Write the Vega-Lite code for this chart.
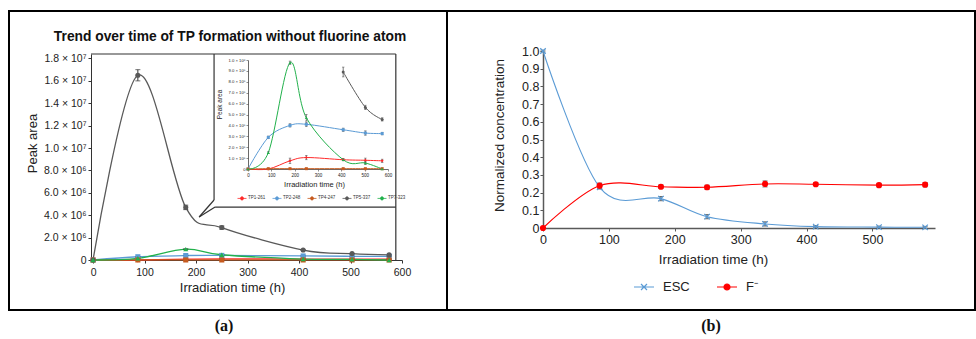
{
  "$schema": "https://vega.github.io/schema/vega-lite/v6.json",
  "padding": {"left": 8, "top": 10, "right": 0, "bottom": 0},
  "spacing": 0,
  "bounds": "flush",
  "columns": 2,
  "resolve": {"scale": {"color": "independent", "shape": "independent", "stroke": "independent", "fill": "independent"}, "legend": {"color": "independent", "shape": "independent", "stroke": "independent", "fill": "independent"}},
  "config": {
    "font": "Liberation Sans",
    "view": {"stroke": "black", "strokeWidth": 2},
    "axis": {"grid": false, "titleFontWeight": "normal", "labelColor": "#222", "titleColor": "#222", "labelFlush": false, "labelOverlap": false}
  },
  "datasets": {
    "a": [
      {"s": "TP1-261", "t": 0, "v": 0, "e": 0},
      {"s": "TP1-261", "t": 87, "v": 0, "e": 0},
      {"s": "TP1-261", "t": 180, "v": 75000, "e": 25000},
      {"s": "TP1-261", "t": 250, "v": 105000, "e": 20000},
      {"s": "TP1-261", "t": 408, "v": 85000, "e": 10000},
      {"s": "TP1-261", "t": 503, "v": 80000, "e": 20000},
      {"s": "TP1-261", "t": 575, "v": 75000, "e": 15000},
      {"s": "TP2-248", "t": 0, "v": 0, "e": 0},
      {"s": "TP2-248", "t": 87, "v": 290000, "e": 12000},
      {"s": "TP2-248", "t": 180, "v": 400000, "e": 15000},
      {"s": "TP2-248", "t": 250, "v": 410000, "e": 20000},
      {"s": "TP2-248", "t": 408, "v": 360000, "e": 15000},
      {"s": "TP2-248", "t": 503, "v": 330000, "e": 20000},
      {"s": "TP2-248", "t": 575, "v": 325000, "e": 12000},
      {"s": "TP4-247", "t": 0, "v": 0, "e": 0},
      {"s": "TP4-247", "t": 87, "v": 3000, "e": 0},
      {"s": "TP4-247", "t": 180, "v": 3000, "e": 0},
      {"s": "TP4-247", "t": 250, "v": 3000, "e": 0},
      {"s": "TP4-247", "t": 408, "v": 3000, "e": 0},
      {"s": "TP4-247", "t": 503, "v": 3000, "e": 0},
      {"s": "TP4-247", "t": 575, "v": 3000, "e": 0},
      {"s": "TP5-337", "t": 0, "v": 0, "e": 0},
      {"s": "TP5-337", "t": 87, "v": 16500000, "e": 500000},
      {"s": "TP5-337", "t": 180, "v": 4700000, "e": 200000},
      {"s": "TP5-337", "t": 250, "v": 2900000, "e": 150000},
      {"s": "TP5-337", "t": 408, "v": 890000, "e": 45000},
      {"s": "TP5-337", "t": 503, "v": 565000, "e": 20000},
      {"s": "TP5-337", "t": 575, "v": 455000, "e": 15000},
      {"s": "TP7-323", "t": 0, "v": 0, "e": 0},
      {"s": "TP7-323", "t": 87, "v": 150000, "e": 8000},
      {"s": "TP7-323", "t": 180, "v": 975000, "e": 15000},
      {"s": "TP7-323", "t": 250, "v": 470000, "e": 30000},
      {"s": "TP7-323", "t": 408, "v": 85000, "e": 8000},
      {"s": "TP7-323", "t": 503, "v": 55000, "e": 15000},
      {"s": "TP7-323", "t": 575, "v": 0, "e": 0}
    ],
    "b": [
      {"s": "ESC", "t": 0, "v": 1.0, "e": 0.005},
      {"s": "ESC", "t": 86, "v": 0.23, "e": 0.01},
      {"s": "ESC", "t": 179, "v": 0.166, "e": 0.012},
      {"s": "ESC", "t": 249, "v": 0.064, "e": 0.012},
      {"s": "ESC", "t": 337, "v": 0.023, "e": 0.012},
      {"s": "ESC", "t": 414, "v": 0.008, "e": 0.006},
      {"s": "ESC", "t": 510, "v": 0.005, "e": 0.006},
      {"s": "ESC", "t": 580, "v": 0.004, "e": 0.005},
      {"s": "F⁻", "t": 0, "v": 0, "e": 0},
      {"s": "F⁻", "t": 86, "v": 0.239, "e": 0.015},
      {"s": "F⁻", "t": 179, "v": 0.233, "e": 0.01},
      {"s": "F⁻", "t": 249, "v": 0.23, "e": 0.012},
      {"s": "F⁻", "t": 337, "v": 0.249, "e": 0.017},
      {"s": "F⁻", "t": 414, "v": 0.247, "e": 0.008},
      {"s": "F⁻", "t": 510, "v": 0.242, "e": 0.01},
      {"s": "F⁻", "t": 580, "v": 0.245, "e": 0.012}
    ]
  },
  "concat": [
    {
      "width": 438,
      "height": 299,
      "resolve": {"scale": {"x": "independent", "y": "independent"}},
      "layer": [
        {
          "data": {"name": "a"},
          "layer": [
            {
              "mark": {"type": "line", "interpolate": "cardinal", "strokeWidth": 1.3},
              "encoding": {
                "x": {"field": "t", "type": "quantitative", "title": "Irradiation time (h)", "scale": {"domain": [-4, 600], "range": [82, 393], "nice": false, "zero": false},
                  "axis": {"orient": "bottom", "offset": -50, "values": [0, 100, 200, 300, 400, 500, 600], "tickCount": 20, "labelOverlap": false, "title": "Irradiation time (h)", "titleFontSize": 13, "titleX": 223, "titleY": 31, "titleBaseline": "alphabetic", "labelFontSize": 10.5, "tickSize": 3, "labelPadding": 4, "domainColor": "#333", "tickColor": "#333"}},
                "y": {"field": "v", "type": "quantitative", "title": "Peak area", "scale": {"domain": [0, 18400000], "range": [249, 43], "nice": false, "zero": false},
                  "axis": {"orient": "left", "offset": -82, "values": [0, 2000000, 4000000, 6000000, 8000000, 10000000, 12000000, 14000000, 16000000, 18000000], "tickCount": 20, "labelOverlap": false, "labelExpr": "datum.value == 0 ? '0' : datum.value >= 10000000 ? format(datum.value / 10000000, '.1f') + ' × 10⁷' : format(datum.value / 1000000, '.1f') + ' × 10⁶'", "title": "Peak area", "titleFontSize": 13, "titleX": -59, "titleY": 132, "titleBaseline": "middle", "labelFontSize": 10.5, "tickSize": 3, "labelPadding": 2, "domainColor": "#333", "tickColor": "#333"}},
                "color": {"field": "s", "type": "nominal", "scale": {"domain": ["TP7-323", "TP5-337", "TP4-247", "TP2-248", "TP1-261"], "range": ["#22b14c", "#595959", "#c65a1e", "#5b9bd5", "#ff2a2a"]}, "legend": null}
              }
            },
            {
              "transform": [{"filter": "datum.e > 0"}],
              "mark": {"type": "errorbar", "ticks": {"size": 5}, "color": "#333", "thickness": 1},
              "encoding": {
                "x": {"field": "t", "type": "quantitative", "title": "Irradiation time (h)"},
                "y": {"field": "v", "type": "quantitative", "title": "Peak area",
                  "axis": {"orient": "left", "offset": -82, "values": [0, 2000000, 4000000, 6000000, 8000000, 10000000, 12000000, 14000000, 16000000, 18000000], "tickCount": 20, "labelOverlap": false, "labelExpr": "datum.value == 0 ? '0' : datum.value >= 10000000 ? format(datum.value / 10000000, '.1f') + ' × 10⁷' : format(datum.value / 1000000, '.1f') + ' × 10⁶'", "title": "Peak area", "titleFontSize": 13, "titleX": -59, "titleY": 132, "titleBaseline": "middle", "labelFontSize": 10.5, "tickSize": 3, "labelPadding": 2, "domainColor": "#333", "tickColor": "#333"}},
                "yError": {"field": "e"}
              }
            },
            {
              "mark": {"type": "point", "filled": true, "size": 26, "opacity": 1},
              "encoding": {
                "x": {"field": "t", "type": "quantitative", "title": "Irradiation time (h)"},
                "y": {"field": "v", "type": "quantitative", "title": "Peak area"},
                "color": {"field": "s", "type": "nominal", "legend": null},
                "shape": {"field": "s", "type": "nominal", "scale": {"domain": ["TP7-323", "TP5-337", "TP4-247", "TP2-248", "TP1-261"], "range": ["triangle-up", "circle", "square", "square", "diamond"]}, "legend": null}
              }
            },
            {
              "data": {"values": [{"label": "Trend over time of TP formation without fluorine atom"}]},
              "mark": {"type": "text", "fontWeight": "bold", "fontSize": 13.8, "baseline": "middle", "color": "#111"},
              "encoding": {
                "text": {"field": "label"},
                "x": {"datum": 266, "type": "quantitative", "title": "Irradiation time (h)"},
                "y": {"datum": 19920000, "type": "quantitative", "title": "Peak area"}
              }
            },
            {
              "data": {"values": [{}]},
              "mark": {"type": "rule", "color": "#333", "strokeWidth": 1.2},
              "encoding": {
                "x": {"datum": -4, "type": "quantitative", "title": "Irradiation time (h)"}, "x2": {"datum": 588},
                "y": {"datum": 18400000, "type": "quantitative", "title": "Peak area"}
              }
            },
            {
              "data": {"values": [{}]},
              "mark": {"type": "rule", "color": "#333", "strokeWidth": 1.2},
              "encoding": {
                "x": {"datum": 588, "type": "quantitative", "title": "Irradiation time (h)"},
                "y": {"datum": 0, "type": "quantitative", "title": "Peak area"}, "y2": {"datum": 18400000}
              }
            },
            {
              "data": {"values": [{}]},
              "mark": {"type": "rule", "color": "#333", "strokeWidth": 1.2},
              "encoding": {
                "x": {"datum": 235, "type": "quantitative", "title": "Irradiation time (h)"},
                "y": {"datum": 18400000, "type": "quantitative", "title": "Peak area"}, "y2": {"datum": 5360000}
              }
            },
            {
              "data": {"values": [{}]},
              "mark": {"type": "rule", "color": "#333", "strokeWidth": 1.2},
              "encoding": {
                "x": {"datum": 235, "type": "quantitative", "title": "Irradiation time (h)"}, "x2": {"datum": 206},
                "y": {"datum": 5360000, "type": "quantitative", "title": "Peak area"}, "y2": {"datum": 3840000}
              }
            },
            {
              "data": {"values": [{}]},
              "mark": {"type": "rule", "color": "#333", "strokeWidth": 1.2},
              "encoding": {
                "x": {"datum": 206, "type": "quantitative", "title": "Irradiation time (h)"}, "x2": {"datum": 237},
                "y": {"datum": 3840000, "type": "quantitative", "title": "Peak area"}, "y2": {"datum": 4730000}
              }
            },
            {
              "data": {"values": [{}]},
              "mark": {"type": "rule", "color": "#333", "strokeWidth": 1.2},
              "encoding": {
                "x": {"datum": 237, "type": "quantitative", "title": "Irradiation time (h)"}, "x2": {"datum": 588},
                "y": {"datum": 4730000, "type": "quantitative", "title": "Peak area"}
              }
            }
          ]
        },
        {
          "data": {"name": "a"},
          "transform": [{"filter": "datum.s != 'TP5-337' || datum.t >= 400"}],
          "encoding": {
            "x": {"field": "t", "type": "quantitative", "title": "Irradiation time (h)", "scale": {"domain": [0, 600], "range": [239, 379], "nice": false, "zero": false},
              "axis": {"orient": "bottom", "offset": -141, "values": [0, 100, 200, 300, 400, 500, 600], "tickCount": 20, "labelOverlap": false, "title": "Irradiation time (h)", "titleFontSize": 7.5, "titleX": 305, "titleY": 15, "titleBaseline": "middle", "labelFontSize": 4.5, "tickSize": 2, "labelPadding": 1, "domainColor": "#444", "domainWidth": 0.8, "tickColor": "#444", "tickWidth": 0.6}},
            "y": {"field": "v", "type": "quantitative", "title": "Peak area", "scale": {"domain": [0, 1000000], "range": [158, 49], "nice": false, "zero": false},
              "axis": {"orient": "left", "offset": -239, "values": [0, 100000, 200000, 300000, 400000, 500000, 600000, 700000, 800000, 900000, 1000000], "tickCount": 20, "labelOverlap": false, "labelExpr": "datum.value == 0 ? '0' : datum.value >= 1000000 ? '1.0 × 10⁶' : format(datum.value / 100000, '.1f') + ' × 10⁵'", "title": "Peak area", "titleFontSize": 6.5, "titleX": -29, "titleY": 93, "titleBaseline": "middle", "labelFontSize": 4.2, "tickSize": 2, "labelPadding": 1, "domainColor": "#444", "domainWidth": 0.8, "tickColor": "#444", "tickWidth": 0.6}}
          },
          "layer": [
            {
              "mark": {"type": "line", "interpolate": "cardinal", "strokeWidth": 1},
              "encoding": {
                "color": {"field": "s", "type": "nominal", "legend": null}
              }
            },
            {
              "transform": [{"filter": "datum.e > 0"}],
              "mark": {"type": "errorbar", "ticks": {"size": 2.5}, "color": "#444", "thickness": 0.7},
              "encoding": {
                "yError": {"field": "e"}
              }
            },
            {
              "mark": {"type": "point", "filled": true, "size": 9, "opacity": 1},
              "encoding": {
                "color": {"field": "s", "type": "nominal", "legend": null},
                "shape": {"field": "s", "type": "nominal", "legend": null}
              }
            },
            {
              "mark": {"type": "point", "opacity": 0},
              "encoding": {
                "stroke": {"field": "s", "type": "nominal", "scale": {"domain": ["TP1-261", "TP2-248", "TP4-247", "TP5-337", "TP7-323"], "range": ["#ff2a2a", "#5b9bd5", "#c65a1e", "#595959", "#22b14c"]},
                  "legend": {"title": null, "orient": "none", "legendX": 228, "legendY": 182, "direction": "horizontal", "columns": 5, "symbolType": "M-1,0H1M-0.35,0A0.35,0.35,0,1,1,0.35,0A0.35,0.35,0,1,1,-0.35,0Z", "symbolSize": 81, "symbolStrokeWidth": 0.8, "symbolOpacity": 1, "labelFontSize": 4.5, "labelOffset": 1, "columnPadding": 4, "padding": 0, "labelColor": "#333"}},
                "fill": {"field": "s", "type": "nominal", "scale": {"domain": ["TP1-261", "TP2-248", "TP4-247", "TP5-337", "TP7-323"], "range": ["#ff2a2a", "#5b9bd5", "#c65a1e", "#595959", "#22b14c"]},
                  "legend": {"title": null, "orient": "none", "legendX": 228, "legendY": 182, "direction": "horizontal", "columns": 5, "symbolType": "M-1,0H1M-0.35,0A0.35,0.35,0,1,1,0.35,0A0.35,0.35,0,1,1,-0.35,0Z", "symbolSize": 81, "symbolStrokeWidth": 0.8, "symbolOpacity": 1, "labelFontSize": 4.5, "labelOffset": 1, "columnPadding": 4, "padding": 0, "labelColor": "#333"}}
              }
            }
          ]
        }
      ]
    },
    {
      "width": 528,
      "height": 299,
      "data": {"name": "b"},
      "encoding": {
        "x": {"field": "t", "type": "quantitative", "title": "Irradiation time (h)", "scale": {"domain": [0, 595], "range": [96, 488], "nice": false, "zero": false},
          "axis": {"orient": "bottom", "offset": -82, "values": [0, 100, 200, 300, 400, 500], "tickCount": 20, "labelOverlap": false, "title": "Irradiation time (h)", "titleFontSize": 13.5, "titleX": 266, "titleY": 35, "titleBaseline": "alphabetic", "labelFontSize": 12.5, "tickSize": 3, "labelPadding": 2, "domainColor": "#595959", "domainWidth": 1.5, "tickColor": "#595959"}},
        "y": {"field": "v", "type": "quantitative", "title": "Normalized concentration", "scale": {"domain": [0, 1], "range": [217, 40], "nice": false, "zero": false},
          "axis": {"orient": "left", "offset": -96, "values": [0, 0.1, 0.2, 0.3, 0.4, 0.5, 0.6, 0.7, 0.8, 0.9, 1.0], "tickCount": 20, "labelOverlap": false, "labelExpr": "datum.value == 0 ? '0' : format(datum.value, '.1f')", "title": "Normalized concentration", "titleFontSize": 13.5, "titleX": -44, "titleY": 124, "titleBaseline": "middle", "labelFontSize": 12.5, "tickSize": 3, "labelPadding": 1, "domainColor": "#595959", "domainWidth": 1.5, "tickColor": "#595959"}}
      },
      "layer": [
        {
          "mark": {"type": "line", "interpolate": "cardinal", "strokeWidth": 1.1},
          "encoding": {
            "color": {"field": "s", "type": "nominal", "scale": {"domain": ["F⁻", "ESC"], "range": ["#ff0000", "#5b9bd5"]}, "legend": null}
          }
        },
        {
          "transform": [{"filter": "datum.e > 0"}],
          "mark": {"type": "errorbar", "ticks": {"size": 5}, "color": "#444", "thickness": 1},
          "encoding": {
            "yError": {"field": "e"}
          }
        },
        {
          "transform": [{"filter": "datum.s == 'ESC'"}],
          "mark": {"type": "point", "shape": "M-1,-1L1,1M-1,1L1,-1", "size": 30, "color": "#5b9bd5", "strokeWidth": 1.2, "opacity": 1}
        },
        {
          "transform": [{"filter": "datum.s != 'ESC'"}],
          "mark": {"type": "circle", "size": 38, "color": "#ff0000", "opacity": 1}
        },
        {
          "mark": {"type": "point", "opacity": 0},
          "encoding": {
            "shape": {"field": "s", "type": "nominal", "scale": {"domain": ["ESC", "F⁻"], "range": ["M-1,0H1M-0.3,-0.3L0.3,0.3M-0.3,0.3L0.3,-0.3", "M-1,0H1M-0.3,0A0.3,0.3,0,1,1,0.3,0A0.3,0.3,0,1,1,-0.3,0Z"]},
              "legend": {"title": null, "orient": "none", "legendX": 186, "legendY": 265, "direction": "horizontal", "columns": 2, "symbolSize": 400, "symbolStrokeWidth": 1.2, "symbolOpacity": 1, "labelFontSize": 13, "labelOffset": 8, "columnPadding": 24, "padding": 0, "labelColor": "#222"}},
            "stroke": {"field": "s", "type": "nominal", "scale": {"domain": ["ESC", "F⁻"], "range": ["#5b9bd5", "#ff0000"]},
              "legend": {"title": null, "orient": "none", "legendX": 186, "legendY": 265, "direction": "horizontal", "columns": 2, "symbolSize": 400, "symbolStrokeWidth": 1.2, "symbolOpacity": 1, "labelFontSize": 13, "labelOffset": 8, "columnPadding": 24, "padding": 0, "labelColor": "#222"}},
            "fill": {"field": "s", "type": "nominal", "scale": {"domain": ["ESC", "F⁻"], "range": ["#5b9bd5", "#ff0000"]},
              "legend": {"title": null, "orient": "none", "legendX": 186, "legendY": 265, "direction": "horizontal", "columns": 2, "symbolSize": 400, "symbolStrokeWidth": 1.2, "symbolOpacity": 1, "labelFontSize": 13, "labelOffset": 8, "columnPadding": 24, "padding": 0, "labelColor": "#222"}}
          }
        }
      ]
    },
    {
      "width": 438,
      "height": 32,
      "data": {"values": [{"label": "(a)"}]},
      "mark": {"type": "text", "font": "Liberation Serif", "fontSize": 16, "fontWeight": "bold", "baseline": "middle", "dx": -4, "color": "#111"},
      "encoding": {"text": {"field": "label"}}
    },
    {
      "width": 528,
      "height": 32,
      "data": {"values": [{"label": "(b)"}]},
      "mark": {"type": "text", "font": "Liberation Serif", "fontSize": 16, "fontWeight": "bold", "baseline": "middle", "color": "#111"},
      "encoding": {"text": {"field": "label"}}
    }
  ]
}
